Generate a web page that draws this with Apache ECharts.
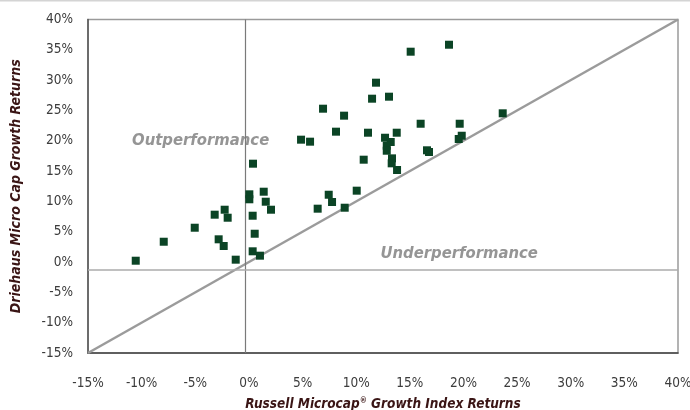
<!DOCTYPE html>
<html>
<head>
<meta charset="utf-8">
<script src="https://cdn.jsdelivr.net/npm/echarts@6/dist/echarts.min.js"></script>
<style>
  html, body { margin: 0; padding: 0; background: #fff; }
  #chart { width: 690px; height: 410px; }
</style>
</head>
<body>
<div id="chart"></div>
<script>
// Return pairs: benchmark (x) vs. fund (y), in percent
const benchmarkReturns = [
  -10.55, -7.94, -5.05, -3.19, -2.26, -1.98, -2.82, -2.35, -1.23,
  0.38, 0.04, 0.04, 1.38, 1.57, 2.06, 0.35, 0.54, 0.35, 1.03,
  6.41, 7.44, 7.75, 8.93, 10.05, 10.7,
  15.08, 18.65, 11.85, 11.48, 13.06, 6.91, 8.87, 8.12, 4.86, 5.7,
  11.1, 13.78, 16.01, 12.69, 13.22, 12.85, 12.85, 13.34, 13.31, 13.81,
  16.6, 16.79, 19.65, 19.84, 19.56, 23.66
];
const fundReturns = [
  0.22, 3.35, 5.66, 7.81, 8.63, 7.31, 3.75, 2.65, 0.39,
  16.22, 11.17, 10.35, 11.6, 9.95, 8.63, 7.64, 4.67, 1.77, 1.05,
  8.8, 11.1, 9.9, 8.96, 11.77, 16.88,
  34.69, 35.84, 29.58, 26.94, 27.27, 25.29, 24.14, 21.5, 20.18, 19.85,
  21.33, 21.33, 22.81, 20.5, 19.8, 19.19, 18.36, 17.1, 16.28, 15.18,
  18.43, 18.15, 22.81, 20.83, 20.29, 24.53
];

// Axis range and tick step (percent)
const axisMin = -15;
const axisMax = 40;
const axisStep = 5;

// Reference lines
const parityLine = [[-15, -15], [40, 40]];
const verticalRefX = -0.35;
const horizontalRefY = -1.2;

// Region annotations
const regionLabels = [
  { text: 'Outperformance', x: -4.5, y: 20.0 },
  { text: 'Underperformance', x: 19.6, y: 1.3 }
];

const xTitle = 'Russell Microcap{sup|®} Growth Index Returns';
const yTitle = 'Driehaus Micro Cap Growth Returns';

const points = benchmarkReturns.map((x, i) => [x, fundReturns[i]]);

const condensed = '"Liberation Sans Narrow", "DejaVu Sans Condensed", sans-serif';

const chart = echarts.init(document.getElementById('chart'), null, { renderer: 'canvas' });

chart.setOption({
  animation: false,
  backgroundColor: '#ffffff',
  grid: {
    left: 88, top: 19.5, right: 12, bottom: 57,
    containLabel: false,
    outerBoundsMode: 'none',
    show: true, borderColor: '#9a9a9a', borderWidth: 1.5, backgroundColor: 'transparent'
  },
  graphic: [
    { type: 'rect', shape: { x: 0, y: 0, width: 690, height: 1.5 }, style: { fill: '#d4d4d4' }, silent: true }
  ],
  xAxis: {
    type: 'value',
    min: axisMin, max: axisMax, interval: axisStep,
    name: xTitle,
    nameLocation: 'middle',
    nameGap: 44,
    nameTextStyle: {
      fontFamily: condensed, fontSize: 13.5, fontWeight: 'bold', fontStyle: 'italic', color: '#3a1515',
      rich: { sup: { fontFamily: condensed, fontSize: 8, fontWeight: 'bold', color: '#3a1515', verticalAlign: 'top', padding: [0, 0, 7, 0] } }
    },
    axisLine: { show: true, onZero: false, lineStyle: { color: '#444', width: 1.5 } },
    axisTick: { show: false },
    splitLine: { show: false },
    axisLabel: {
      margin: 23,
      fontFamily: condensed, fontSize: 13.5, color: '#3c3c3c',
      formatter: v => v + '%'
    }
  },
  yAxis: {
    type: 'value',
    min: axisMin, max: axisMax, interval: axisStep,
    name: yTitle,
    nameLocation: 'middle',
    nameGap: 65,
    nameTextStyle: {
      fontFamily: condensed, fontSize: 14, fontWeight: 'bold', fontStyle: 'italic', color: '#3a1515'
    },
    axisLine: { show: true, onZero: false, lineStyle: { color: '#555', width: 1.5 } },
    axisTick: { show: false },
    splitLine: { show: false },
    axisLabel: {
      margin: 15,
      fontFamily: condensed, fontSize: 13.5, color: '#3c3c3c',
      formatter: v => v + '%'
    }
  },
  series: [
    {
      type: 'line',
      data: parityLine,
      symbol: 'none',
      silent: true,
      lineStyle: { color: '#9b9b9b', width: 2.5 },
      markLine: {
        silent: true,
        symbol: 'none',
        label: { show: false },
        data: [
          { xAxis: verticalRefX, lineStyle: { color: '#7a7a7a', width: 1.2, type: 'solid' } },
          { yAxis: horizontalRefY, lineStyle: { color: '#ababab', width: 1.5, type: 'solid' } }
        ]
      },
      z: 2
    },
    {
      type: 'scatter',
      data: regionLabels.map(r => ({ value: [r.x, r.y], name: r.text })),
      symbolSize: 0,
      silent: true,
      label: {
        show: true,
        position: 'inside',
        formatter: p => p.name,
        fontFamily: condensed, fontSize: 16.5, fontWeight: 'bold', fontStyle: 'italic', color: '#7a7a7a'
      },
      z: 3
    },
    {
      type: 'scatter',
      data: points,
      symbol: 'rect',
      symbolSize: 8,
      itemStyle: { color: '#0b4425', opacity: 1 },
      z: 5
    }
  ]
});
</script>
</body>
</html>
